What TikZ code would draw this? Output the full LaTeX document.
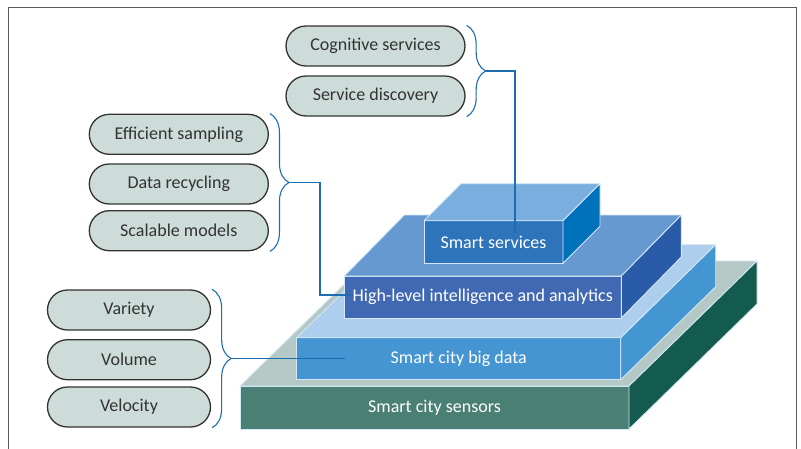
\documentclass[tikz,border=0pt]{standalone}
\usepackage{fontspec}
\setmainfont{Carlito}
\usetikzlibrary{calc,shapes.misc,decorations.pathreplacing}

\definecolor{framegray}{HTML}{5A5A5A}
\definecolor{edge}{HTML}{D3E7F6}
\definecolor{pillfill}{HTML}{CDDCD9}
\definecolor{pillline}{HTML}{333333}
\definecolor{linkblue}{HTML}{1E6DB0}
\definecolor{sensfront}{HTML}{4A7F74}
\definecolor{senstop}{HTML}{B4C9C5}
\definecolor{sensside}{HTML}{135A4F}
\definecolor{datafront}{HTML}{4495D1}
\definecolor{datatop}{HTML}{ADCEEC}
\definecolor{dataside}{HTML}{4396D2}
\definecolor{highfront}{HTML}{4169B3}
\definecolor{hightop}{HTML}{6699D0}
\definecolor{highside}{HTML}{2A5BA9}
\definecolor{svcfront}{HTML}{2E74BA}
\definecolor{svctop}{HTML}{7AAEDE}
\definecolor{svcside}{HTML}{0071BB}

\begin{document}
\begin{tikzpicture}[x=1pt,y=-1pt,
  every node/.style={font=\fontsize{18}{21}\selectfont},
  pill/.style={rounded rectangle, draw=pillline, fill=pillfill, line width=1.3pt,
    text=pillline, minimum height=40pt, inner sep=0pt},
  front/.style={draw=edge, line width=0.9pt, text=white, anchor=north west,
    outer sep=0pt, inner sep=0pt},
  face/.style={draw=edge, line width=0.9pt, line join=round},
  brace/.style={draw=linkblue, line width=1.1pt, decorate,
    decoration={brace, amplitude=19pt, raise=1pt}},
  link/.style={draw=linkblue, line width=1.1pt}]
 \useasboundingbox (0,0) rectangle (801,448);
 \draw[framegray, line width=1pt] (8,460) -- (8,7) -- (796.5,7) -- (796.5,460);

 \node[front, fill=sensfront, minimum width=389pt, minimum height=43pt] (sensors)
   at (240,386) {Smart city sensors};
 \draw[face, fill=senstop] (sensors.north west) -- ++(128,-125) -- ++(389,0) -- (sensors.north east) -- cycle;
 \draw[face, fill=sensside] (sensors.north east) -- ++(128,-125) -- ++(0,43) -- (sensors.south east) -- cycle;

 \node[front, fill=datafront, minimum width=324pt, minimum height=42pt] (bigdata)
   at (296.7,337.7) {Smart city big data};
 \draw[face, fill=datatop] (bigdata.north west) -- ++(95,-93) -- ++(324,0) -- (bigdata.north east) -- cycle;
 \draw[face, fill=dataside] (bigdata.north east) -- ++(95,-93) -- ++(0,42) -- (bigdata.south east) -- cycle;

 \node[front, fill=highfront, minimum width=277pt, minimum height=42pt] (highlevel)
   at (344.3,276) {High-level intelligence and analytics};
 \draw[face, fill=hightop] (highlevel.north west) -- ++(60,-61) -- ++(277,0) -- (highlevel.north east) -- cycle;
 \draw[face, fill=highside] (highlevel.north east) -- ++(60,-61) -- ++(0,42) -- (highlevel.south east) -- cycle;

 \node[front, fill=svcfront, minimum width=139pt, minimum height=42.5pt] (services)
   at (424,220.7) {Smart services};
 \draw[face, fill=svctop] (services.north west) -- ++(37,-37) -- ++(139,0) -- (services.north east) -- cycle;
 \draw[face, fill=svcside] (services.north east) -- ++(37,-37) -- ++(0,42.5) -- (services.south east) -- cycle;

 \node[pill, minimum width=179pt] (cog) at (375.5,46) {Cognitive services};
 \node[pill, minimum width=179pt] (disc) at (375.5,96) {Service discovery};
 \node[pill, minimum width=179pt] (samp) at (178.8,134.3) {Efficient sampling};
 \node[pill, minimum width=179pt] (recyc) at (178.8,184) {Data recycling};
 \node[pill, minimum width=179pt] (scal) at (178.8,230.7) {Scalable models};
 \node[pill, minimum width=163pt] (var) at (129,310) {Variety};
 \node[pill, minimum width=163pt] (vol) at (129,359.7) {Volume};
 \node[pill, minimum width=163pt] (vel) at (129,407) {Velocity};

 \draw[brace] (cog.east |- cog.north) -- (disc.east |- disc.south);
 \draw[brace] (samp.east |- samp.north) -- (scal.east |- scal.south);
 \draw[brace] (var.east |- var.north) -- (vel.east |- vel.south);
 \coordinate (cogtip) at ($(cog.east)!0.5!(disc.east)+(20,0)$);
 \coordinate (samptip) at ($(samp.east)!0.5!(scal.east)+(20,0)$);
 \coordinate (vartip) at ($(var.east)!0.5!(vel.east)+(20,0)$);

 \coordinate (svcend) at (515,233);
 \coordinate (highend) at (350,295);
 \coordinate (dataend) at ($(bigdata.west)+(48,0)$);
 \draw[link] (cogtip) -| (svcend);
 \draw[link] (samptip) -- ++(31,0) |- (highend);
 \draw[link] (vartip) -- (vartip -| dataend);
\end{tikzpicture}
\end{document}
